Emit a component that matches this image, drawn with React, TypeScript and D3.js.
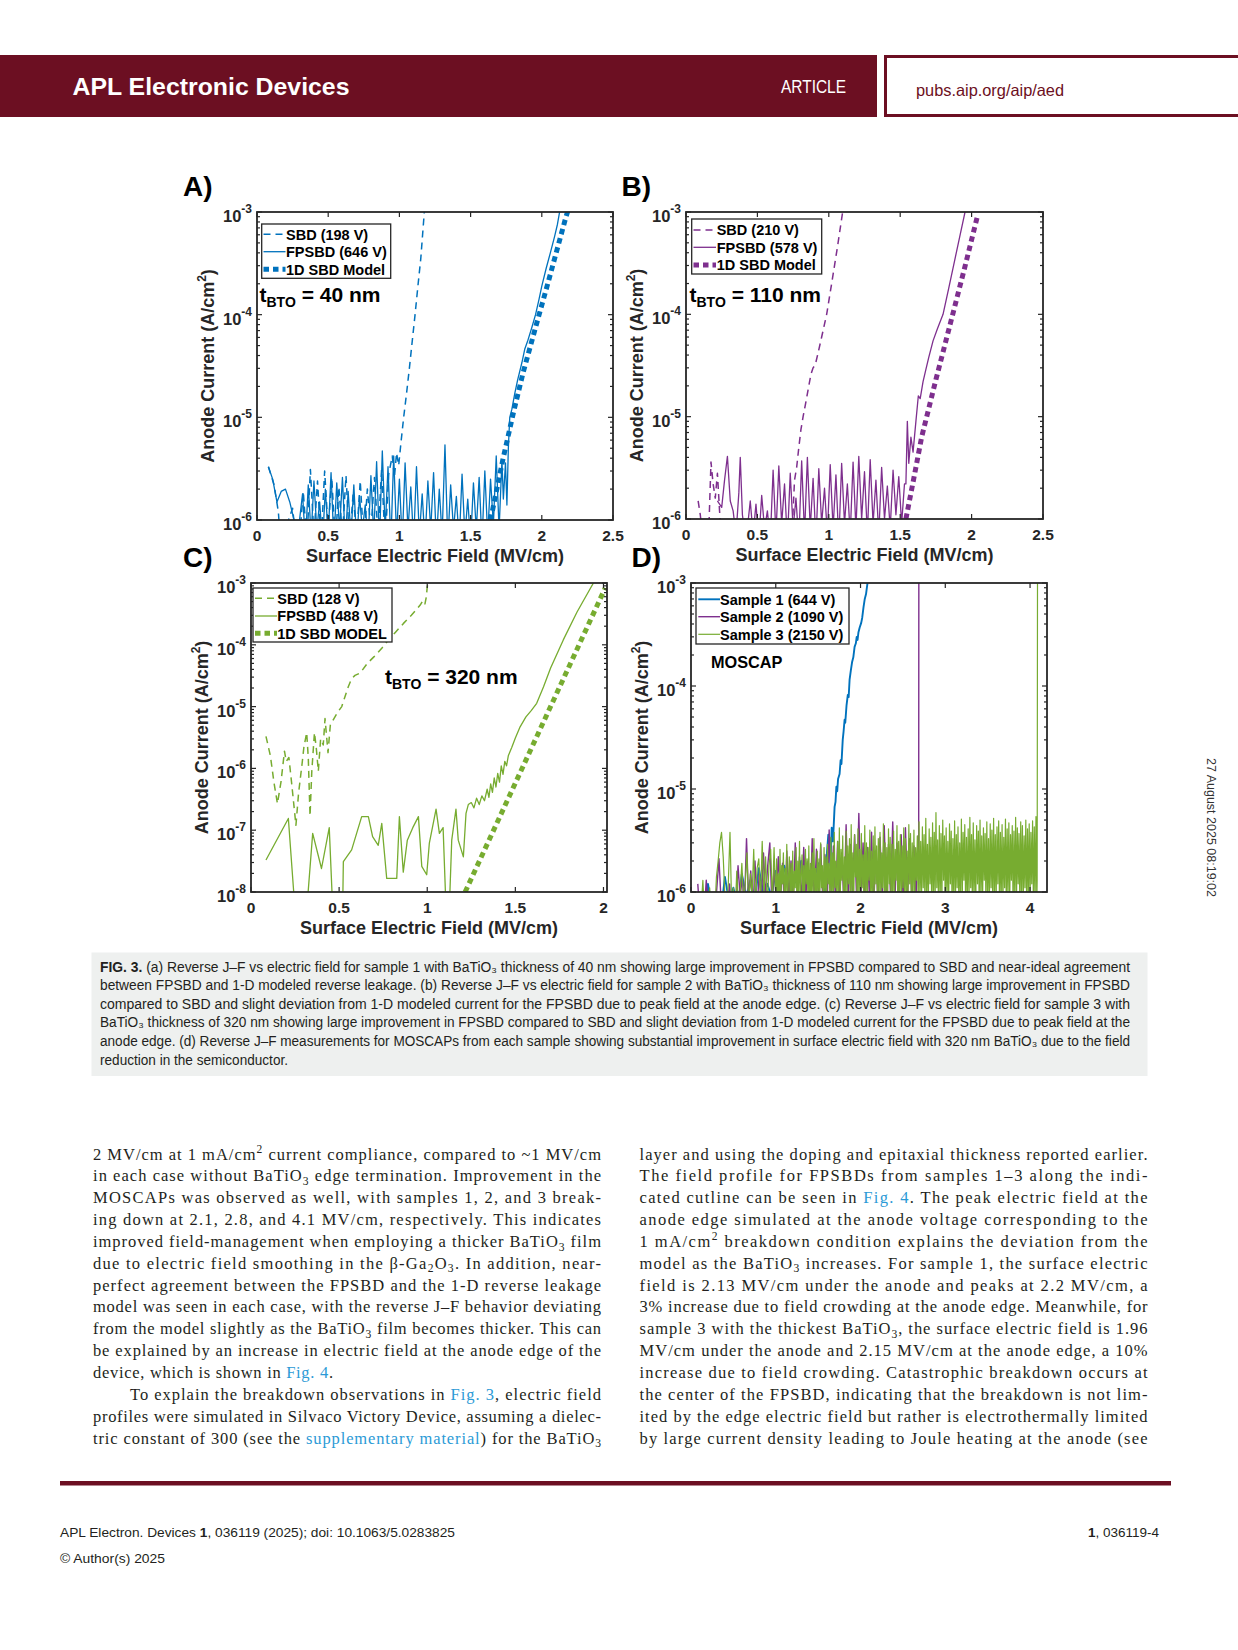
import React from 'react';
import * as d3 from 'd3';

type Pt = [number, number];

// ---------------- DATA ----------------
const AB_X_TICKS = [0, 0.5, 1, 1.5, 2, 2.5];
const C_X_TICKS = [0, 0.5, 1, 1.5, 2];
const D_X_TICKS = [0, 1, 2, 3, 4];
const AB_Y_EXPS = [-6, -5, -4, -3];
const C_Y_EXPS = [-8, -7, -6, -5, -4, -3];
const D_Y_EXPS = [-6, -5, -4, -3];

const A_LEGEND = ['SBD (198 V)', 'FPSBD (646 V)', '1D SBD Model'];
const B_LEGEND = ['SBD (210 V)', 'FPSBD (578 V)', '1D SBD Model'];
const C_LEGEND = ['SBD (128 V)', 'FPSBD (488 V)', '1D SBD MODEL'];
const D_LEGEND = ['Sample 1 (644 V)', 'Sample 2 (1090 V)', 'Sample 3 (2150 V)'];

// Panel A (values in A/cm^2; *_NOISE arrays in units of 1e-7 A/cm^2 on a regular field grid)
const A_SBD_HEAD: Pt[] = [[0.08, 3.3e-6], [0.12, 2.2e-6], [0.15, 1.2e-6], [0.165, 6e-7]];
const A_SBD_NOISE_X0 = 0.25, A_SBD_NOISE_DX = 0.025;
const A_SBD_NOISE = [13, 6, 7, 19, 6, 31, 7, 24, 6, 30, 8, 26, 6, 21, 7, 27, 6, 18, 7, 24, 6, 20, 8, 26, 7, 31, 6, 28];
const A_SBD_RISE: Pt[] = [[0.95, 4.2e-6], [0.965, 2.6e-6], [0.98, 4.5e-6], [0.995, 3.4e-6], [1.01, 5.5e-6], [1.03, 1e-5], [1.05, 1.7e-5], [1.07, 3e-5], [1.09, 5.5e-5], [1.11, 1e-4], [1.13, 1.9e-4], [1.15, 3.5e-4], [1.175, 1e-3], [1.18, 1.3e-3]];
const A_FP_HEAD: Pt[] = [[0.08, 3.3e-6], [0.11, 2.5e-6], [0.14, 1.5e-6], [0.17, 1.9e-6], [0.2, 2.0e-6], [0.23, 1.5e-6], [0.26, 1.0e-6], [0.28, 6e-7]];
const A_FP_NOISE_X0 = 0.32, A_FP_NOISE_DX = 0.02;
const A_FP_NOISE = [18, 6, 22, 7, 24, 8, 15, 6, 20, 7, 29, 6, 23, 8, 26, 6, 19, 7, 22, 6, 17, 8, 14, 6, 27, 7, 37, 6, 47, 8, 33, 6, 42, 7, 25, 6, 36, 8, 21, 6, 33, 7, 18, 6, 24, 8, 29, 6, 20, 7, 54, 6, 22, 8, 17, 6, 28, 7, 16, 6, 23, 8, 26, 6, 30, 7, 25, 9, 42, 8, 38];
const A_FP_RISE: Pt[] = [[1.73, 1.6e-6], [1.745, 3.6e-6], [1.755, 1.4e-6], [1.765, 5e-6], [1.775, 1e-5], [1.79, 1.2e-5], [1.81, 1.7e-5], [1.83, 2.3e-5], [1.86, 3.4e-5], [1.88, 4.6e-5], [1.9, 5.5e-5], [1.93, 7.5e-5], [1.956, 1.0e-4], [1.98, 1.4e-4], [2.0, 1.9e-4], [2.03, 2.8e-4], [2.06, 4.0e-4], [2.09, 5.8e-4], [2.11, 7.6e-4], [2.125, 1.0e-3], [2.13, 1.3e-3]];
const A_MODEL: Pt[] = [[1.64, 1.0e-6], [1.727, 3.9e-6], [1.8, 1.1e-5], [1.868, 2.7e-5], [1.95, 7e-5], [2.05, 2.2e-4], [2.17, 9e-4], [2.19, 1.1e-3]];

// Panel B
const B_SBD: Pt[] = [[0.085, 1.5e-6], [0.1, 1.1e-6], [0.12, 6e-7], [0.16, 8e-7], [0.175, 3.6e-6], [0.19, 2.2e-6], [0.205, 1.6e-6], [0.22, 2.8e-6], [0.235, 1.2e-6], [0.25, 6e-7], [0.74, 6e-7], [0.76, 2.4e-6], [0.775, 3.2e-6], [0.79, 5e-6], [0.805, 7.5e-6], [0.82, 1e-5], [0.84, 1.4e-5], [0.86, 2e-5], [0.875, 2.6e-5], [0.89, 3e-5], [0.905, 3.2e-5], [0.925, 4.2e-5], [0.95, 6e-5], [0.985, 1e-4], [1.02, 2e-4], [1.06, 4.5e-4], [1.097, 1e-3], [1.105, 1.2e-3]];
const B_FP_HEAD: Pt[] = [[0.22, 1.5e-6], [0.25, 1.3e-6], [0.27, 2.4e-6], [0.29, 4.1e-6], [0.31, 1.5e-6], [0.33, 1.2e-6], [0.35, 7e-7], [0.37, 1.8e-6], [0.38, 4.0e-6], [0.395, 1.1e-6], [0.42, 6e-7]];
const B_FP_NOISE_X0 = 0.45, B_FP_NOISE_DX = 0.02;
const B_FP_NOISE = [15, 7, 14, 6, 17, 8, 12, 6, 30, 7, 33, 9, 22, 6, 28, 8, 16, 6, 37, 7, 40, 8, 25, 6, 31, 9, 20, 7, 34, 8, 27, 6, 35, 9, 22, 7, 36, 8, 41, 10, 29, 7, 38, 9, 24, 7, 32, 10, 21, 8, 30, 11, 26, 9, 22];
const B_FP_RISE: Pt[] = [[1.54, 2.2e-6], [1.55, 9e-6], [1.56, 3.5e-6], [1.575, 6.3e-6], [1.59, 4.5e-6], [1.61, 9e-6], [1.627, 1.6e-5], [1.64, 1.5e-5], [1.66, 2.2e-5], [1.68, 2.9e-5], [1.7, 3.8e-5], [1.73, 5.5e-5], [1.76, 7.2e-5], [1.8, 1e-4], [1.84, 1.8e-4], [1.88, 3.3e-4], [1.92, 6e-4], [1.954, 1e-3], [1.96, 1.2e-3]];
const B_MODEL: Pt[] = [[1.54, 1e-6], [1.6, 2.7e-6], [1.65, 6.3e-6], [1.75, 2.3e-5], [1.85, 8e-5], [1.95, 2.8e-4], [2.04, 9e-4]];

// Panel C
const C_SBD: Pt[] = [[0.085, 3.3e-6], [0.11, 1.6e-6], [0.13, 6e-7], [0.15, 2.7e-7], [0.17, 6e-7], [0.19, 1.9e-6], [0.2, 1.3e-6], [0.215, 1.5e-6], [0.23, 6e-7], [0.255, 1.2e-7], [0.27, 4e-7], [0.29, 1.2e-6], [0.3, 2.2e-6], [0.316, 3.8e-6], [0.325, 1.5e-6], [0.335, 1.7e-7], [0.345, 9e-7], [0.36, 3.8e-6], [0.37, 2.2e-6], [0.382, 9e-7], [0.395, 3e-6], [0.41, 2.4e-6], [0.42, 6.4e-6], [0.437, 1.8e-6], [0.45, 5e-6], [0.465, 6e-6], [0.49, 8e-6], [0.515, 1e-5], [0.535, 1.5e-5], [0.552, 2.1e-5], [0.57, 2.8e-5], [0.59, 3.2e-5], [0.62, 3.5e-5], [0.66, 5e-5], [0.7, 6.5e-5], [0.742, 8.8e-5], [0.78, 1.2e-4], [0.82, 1.6e-4], [0.864, 2.2e-4], [0.91, 3e-4], [0.96, 4.4e-4], [0.975, 5.2e-4], [0.987, 4.6e-4], [0.995, 6e-4], [1.0, 8.7e-4], [1.01, 1.2e-3]];
const C_FP: Pt[] = [[0.085, 3.3e-8], [0.212, 1.55e-7], [0.25, 5e-9], [0.316, 5e-9], [0.35, 8.9e-8], [0.4, 2.4e-8], [0.444, 1.1e-7], [0.464, 5e-9], [0.52, 5e-9], [0.524, 3.1e-8], [0.571, 4.8e-8], [0.628, 1.66e-7], [0.666, 1.66e-7], [0.69, 7.9e-8], [0.722, 5.7e-8], [0.742, 1.29e-7], [0.77, 1.66e-8], [0.827, 1.66e-8], [0.842, 1.66e-7], [0.864, 2.1e-8], [0.887, 6.9e-8], [0.918, 1.1e-7], [0.95, 1.66e-7], [0.969, 2.6e-8], [0.997, 1.9e-8], [1.012, 6.2e-8], [1.05, 2.2e-7], [1.069, 8.9e-8], [1.09, 1.1e-7], [1.107, 5e-9], [1.125, 5e-9], [1.139, 6.9e-8], [1.163, 2.2e-7], [1.176, 6.9e-8], [1.205, 3.7e-8], [1.22, 1.87e-7], [1.233, 2.6e-7], [1.25, 2.8e-7], [1.265, 2.3e-7], [1.28, 3.3e-7], [1.295, 2.6e-7], [1.31, 3.6e-7], [1.325, 3e-7], [1.34, 4.6e-7], [1.35, 3.4e-7], [1.36, 5.6e-7], [1.37, 4.1e-7], [1.38, 7e-7], [1.39, 5e-7], [1.4, 8.3e-7], [1.41, 6e-7], [1.42, 1.1e-6], [1.43, 8e-7], [1.44, 1.3e-6], [1.45, 1.1e-6], [1.46, 1.6e-6], [1.48, 2.2e-6], [1.5, 3.1e-6], [1.527, 4.7e-6], [1.56, 6.8e-6], [1.59, 8.6e-6], [1.621, 1.13e-5], [1.66, 2.1e-5], [1.7, 4.2e-5], [1.772, 1.2e-4], [1.85, 3.4e-4], [1.943, 1e-3], [1.95, 1.2e-3]];
const C_MODEL: Pt[] = [[1.215, 1e-8], [2.01, 8.3e-4]];

// Panel D (MOSCAP)
const D_S1_NOISE_X0 = 0.1, D_S1_NOISE_DX = 0.05;
const D_S1_NOISE = [10, 6, 12, 7, 9, 6, 14, 8, 11, 7, 15, 9, 13, 8, 17, 10, 12, 9, 16, 11, 18, 10, 14, 12, 20, 11, 16, 13, 19, 12];
const D_S1_RISE: Pt[] = [[1.58, 9e-7], [1.6, 2.2e-6], [1.62, 3.6e-6], [1.635, 3.3e-6], [1.645, 1.8e-6], [1.66, 4.2e-6], [1.675, 3.1e-6], [1.694, 6.7e-6], [1.705, 7.5e-6], [1.715, 1.05e-5], [1.725, 9.5e-6], [1.735, 1.25e-5], [1.753, 1.4e-5], [1.765, 1.9e-5], [1.775, 1.75e-5], [1.79, 3e-5], [1.8, 3.6e-5], [1.812, 4.7e-5], [1.82, 4.4e-5], [1.835, 6.5e-5], [1.85, 8.2e-5], [1.86, 7.8e-5], [1.871, 1.15e-4], [1.885, 1.4e-4], [1.9, 1.7e-4], [1.915, 1.9e-4], [1.93, 2.4e-4], [1.945, 2.6e-4], [1.955, 3.0e-4], [1.965, 2.8e-4], [1.975, 3.3e-4], [1.99, 3.7e-4], [2.008, 4.1e-4], [2.02, 4.6e-4], [2.035, 5.8e-4], [2.05, 7e-4], [2.065, 7.8e-4], [2.075, 9e-4], [2.086, 1.05e-3], [2.09, 1.3e-3]];
const D_S2_NOISE_X0 = 0.08, D_S2_NOISE_DX = 0.025;
const D_S2_NOISE = [
  12, 6, 8, 6, 13, 7, 6, 9, 6, 11, 21, 8, 6, 9, 7,
  12, 6, 10, 7, 18, 9, 14, 7, 33, 8, 16, 6, 20, 7, 15,
  8, 24, 9, 18, 30, 7, 17, 9, 22, 8, 19, 6, 25, 9, 20,
  7, 30, 9, 22, 8, 27, 9, 20, 7, 33, 8, 26, 9, 29, 8,
  23, 7, 40, 9, 28, 8, 31, 9, 24, 7, 45, 8, 29, 9, 36,
  8, 58, 9, 30, 8, 27, 9, 38, 7, 25, 8, 34, 9, 44, 8,
  29, 9, 48, 8, 30, 9, 36, 7, 42, 9, 33, 8, 28, 9, 35];
const D_S2_BREAK: Pt[] = [[2.686, 1.6e-6], [2.688, 1.2e-3]];
// Sample 3: sparse part (0.10-0.98) and dense part (1.00-4.08)
const D_S3_LEFT_X0 = 0.1, D_S3_LEFT_DX = 0.02;
const D_S3_LEFT = [
  6, 7, 13, 6, 8, 7, 11, 6, 9, 6, 14, 20, 30, 38, 22, 9, 7, 12, 38, 7, 11, 6, 16, 7, 10,
  19, 8, 12, 24, 7, 15, 9, 26, 6, 17, 21, 8, 31, 9, 22, 7, 18, 26, 8, 27];
const D_S3_RIGHT_X0 = 1.0, D_S3_RIGHT_DX = 0.01;
const D_S3_RIGHT = [
  8, 21, 9, 15, 7, 26, 8, 18, 12, 24, 7, 17, 9, 29, 8, 14, 22, 7, 19, 9,
  25, 8, 16, 11, 27, 7, 20, 9, 31, 8, 15, 23, 7, 18, 9, 26, 12, 21, 8, 28,
  7, 19, 9, 24, 8, 33, 10, 17, 7, 25, 9, 21, 8, 30, 11, 18, 7, 27, 9, 22,
  8, 29, 12, 19, 7, 34, 9, 24, 8, 38, 11, 20, 7, 31, 9, 42, 8, 26, 13, 35,
  7, 22, 9, 39, 8, 28, 12, 33, 7, 45, 9, 24, 8, 36, 14, 29, 7, 41, 9, 26,
  8, 37, 11, 23, 7, 44, 9, 30, 8, 27, 13, 40, 7, 25, 9, 35, 8, 43, 12, 28,
  7, 33, 9, 38, 8, 24, 11, 46, 7, 30, 9, 27, 8, 41, 12, 34, 7, 29, 9, 39,
  8, 26, 13, 44, 7, 31, 9, 36, 8, 28, 11, 42, 7, 33, 9, 25, 8, 45, 12, 37,
  7, 30, 9, 40, 8, 27, 13, 35, 7, 48, 9, 31, 8, 43, 11, 36, 7, 52, 9, 29,
  8, 41, 12, 34, 7, 47, 9, 38, 8, 59, 11, 32, 7, 44, 9, 37, 8, 50, 13, 35,
  7, 42, 9, 31, 8, 46, 12, 39, 7, 33, 9, 49, 8, 36, 11, 43, 7, 30, 9, 51,
  8, 38, 13, 45, 7, 34, 9, 41, 8, 53, 11, 36, 7, 47, 9, 32, 8, 44, 12, 39,
  7, 50, 9, 35, 8, 42, 13, 37, 7, 48, 9, 33, 8, 46, 11, 40, 7, 52, 9, 36,
  8, 43, 12, 49, 7, 38, 9, 45, 8, 34, 11, 51, 7, 41, 9, 47, 8, 36, 13, 44,
  7, 39, 9, 53, 8, 42, 12, 37, 7, 48, 9, 44, 8, 35, 11, 50, 7, 41, 9, 46,
  8, 38, 12, 49, 7, 43, 9, 54, 8];
const D_S3_BREAK: Pt[] = [[4.084, 1.3e-6], [4.088, 1.2e-3]];

// ---------------- helpers ----------------
const grid = (x0: number, dx: number, vals: number[]): Pt[] => vals.map((v, i) => [x0 + i * dx, v * 1e-7]);

const BLUE = '#0072BD';
const PURPLE = '#7E2F8E';
const GREEN = '#77AC30';
const AX = '#262626';
const FIG_FONT = '"Liberation Sans", Arial, Helvetica, sans-serif';
const SERIF = '"Liberation Serif", "Times New Roman", serif';
const NARROW = '"Liberation Sans Narrow", "Liberation Sans", Arial, sans-serif';
const BRAND = '#6c0f22';
const LINK = '#2b9ad6';

type Kind = 'solid' | 'dashed' | 'dotted';
interface Series { pts: Pt[]; color: string; kind: Kind; width?: number }

function lineStyle(s: Series) {
  if (s.kind === 'dashed') return { w: 1.5, dash: '7 5' };
  if (s.kind === 'dotted') return { w: 5, dash: '5.5 4' };
  return { w: s.width ?? 1.3, dash: undefined as string | undefined };
}

interface Box { l: number; t: number; r: number; b: number }
interface LegendBox { x: number; y: number; w: number; h: number; lx1: number; lx2: number; tx: number; rows: number[] }

interface PanelProps {
  id: string;
  box: Box;
  xDomain: [number, number];
  xTicks: number[];
  yExps: number[];
  series: Series[];
  legendText: string[];
  legendSeries: Series[];
  legend: LegendBox;
  letter: string;
  letterPos: [number, number];
  children?: React.ReactNode;
}

function Panel(p: PanelProps) {
  const { l, t, r, b } = p.box;
  const x = d3.scaleLinear().domain(p.xDomain).range([l, r]);
  const lo = Math.pow(10, p.yExps[0]);
  const hi = Math.pow(10, p.yExps[p.yExps.length - 1]);
  const y = d3.scaleLog().domain([lo, hi]).range([b, t]);
  const gen = d3.line<Pt>().x(d => x(d[0])).y(d => y(d[1]));
  const minors: number[] = [];
  for (let i = 0; i < p.yExps.length - 1; i++) for (let k = 2; k < 10; k++) minors.push(k * Math.pow(10, p.yExps[i]));
  const clip = 'clip' + p.id;
  const cy = (t + b) / 2;
  return (
    <g fontFamily={FIG_FONT}>
      <defs>
        <clipPath id={clip}><rect x={l} y={t} width={r - l} height={b - t} /></clipPath>
      </defs>
      <g clipPath={`url(#${clip})`}>
        {p.series.map((s, i) => {
          const st = lineStyle(s);
          return <path key={i} d={gen(s.pts) || ''} fill="none" stroke={s.color} strokeWidth={st.w} strokeDasharray={st.dash} strokeLinejoin="round" />;
        })}
      </g>
      <g stroke={AX} strokeWidth={1.2}>
        {p.xTicks.map((v, i) => (
          <g key={'xt' + i}>
            <line x1={x(v)} x2={x(v)} y1={b} y2={b - 5} />
            <line x1={x(v)} x2={x(v)} y1={t} y2={t + 5} />
          </g>
        ))}
        {p.yExps.map((e, i) => {
          const yy = y(Math.pow(10, e));
          return (
            <g key={'yt' + i}>
              <line x1={l} x2={l + 5} y1={yy} y2={yy} />
              <line x1={r} x2={r - 5} y1={yy} y2={yy} />
            </g>
          );
        })}
        {minors.map((v, i) => (
          <g key={'ym' + i}>
            <line x1={l} x2={l + 3} y1={y(v)} y2={y(v)} />
            <line x1={r} x2={r - 3} y1={y(v)} y2={y(v)} />
          </g>
        ))}
      </g>
      <rect x={l} y={t} width={r - l} height={b - t} fill="none" stroke={AX} strokeWidth={1.8} />
      <g fill={AX} fontWeight="bold">
        {p.xTicks.map((v, i) => (
          <text key={'xl' + i} x={x(v)} y={b + 20.5} textAnchor="middle" fontSize={15.5}>{String(v)}</text>
        ))}
        {p.yExps.map((e, i) => {
          const yy = y(Math.pow(10, e));
          return (
            <text key={'yl' + i} x={l - 5} y={yy + 10} textAnchor="end" fontSize={16.5}>
              10<tspan dy={-9} fontSize={12}>{String(e)}</tspan>
            </text>
          );
        })}
      </g>
      <text x={(l + r) / 2} y={b + 41.5} textAnchor="middle" fontWeight="bold" fontSize={18} fill={AX}>
        Surface Electric Field (MV/cm)
      </text>
      <text transform={`translate(${l - 43.5},${cy}) rotate(-90)`} textAnchor="middle" fontWeight="bold" fontSize={18} fill={AX}>
        Anode Current (A/cm<tspan dy={-8} fontSize={12}>2</tspan><tspan dy={8}>)</tspan>
      </text>
      <rect x={p.legend.x} y={p.legend.y} width={p.legend.w} height={p.legend.h} fill="#fff" stroke={AX} strokeWidth={1.3} />
      {p.legendText.map((txt, i) => {
        const s = p.legendSeries[i];
        const st = lineStyle(s);
        const ry = p.legend.rows[i];
        return (
          <g key={'lg' + i}>
            <line x1={p.legend.lx1} x2={p.legend.lx2} y1={ry} y2={ry} stroke={s.color} strokeWidth={st.w} strokeDasharray={st.dash} />
            <text x={p.legend.tx} y={ry + 5.2} fontSize={14.5} fontWeight="bold" fill="#000">{txt}</text>
          </g>
        );
      })}
      {p.children}
      <text x={p.letterPos[0]} y={p.letterPos[1]} fontSize={28} fontWeight="bold" fill="#000">{p.letter}</text>
    </g>
  );
}

function TBTO({ x, y, val }: { x: number; y: number; val: string }) {
  return (
    <text x={x} y={y} fontFamily={FIG_FONT} fontWeight="bold" fontSize={21} fill="#000">
      t<tspan fontSize={14} dy={5}>BTO</tspan><tspan dy={-5}>{` = ${val} nm`}</tspan>
    </text>
  );
}

function rich(s: string, size: number, subShift = 0.22) {
  const parts = s.split(/(_\{[^}]*\}|\^\{[^}]*\}|\[[^\]]*\]|\*[^*]*\*)/).filter(q => q !== '');
  let cur = 0;
  return parts.map((q, i) => {
    let target = 0;
    let fs = size;
    let txt = q;
    let fill: string | undefined;
    let fw: string | undefined;
    if (q.startsWith('_{')) { target = size * subShift; fs = size * 0.7; txt = q.slice(2, -1); }
    else if (q.startsWith('^{')) { target = -size * 0.42; fs = size * 0.7; txt = q.slice(2, -1); }
    else if (q.startsWith('[')) { fill = LINK; txt = q.slice(1, -1); }
    else if (q.startsWith('*')) { fw = 'bold'; txt = q.slice(1, -1); }
    const dy = target - cur;
    cur = target;
    return <tspan key={i} dy={dy !== 0 ? dy : undefined} fontSize={fs} fill={fill} fontWeight={fw}>{txt}</tspan>;
  });
}

const LEFT_COL: [string, number?, number?][] = [
  ['2 MV/cm at 1 mA/cm^{2} current compliance, compared to ~1 MV/cm'],
  ['in each case without BaTiO_{3} edge termination. Improvement in the'],
  ['MOSCAPs was observed as well, with samples 1, 2, and 3 break-'],
  ['ing down at 2.1, 2.8, and 4.1 MV/cm, respectively. This indicates'],
  ['improved field-management when employing a thicker BaTiO_{3} film'],
  ['due to electric field smoothing in the β-Ga_{2}O_{3}. In addition, near-'],
  ['perfect agreement between the FPSBD and the 1-D reverse leakage'],
  ['model was seen in each case, with the reverse J–F behavior deviating'],
  ['from the model slightly as the BaTiO_{3} film becomes thicker. This can'],
  ['be explained by an increase in electric field at the anode edge of the'],
  ['device, which is shown in [Fig. 4].', 240],
  ['To explain the breakdown observations in [Fig. 3], electric field', undefined, 37],
  ['profiles were simulated in Silvaco Victory Device, assuming a dielec-'],
  ['tric constant of 300 (see the [supplementary material]) for the BaTiO_{3}'],
];
const RIGHT_COL: [string, number?, number?][] = [
  ['layer and using the doping and epitaxial thickness reported earlier.'],
  ['The field profile for FPSBDs from samples 1–3 along the indi-'],
  ['cated cutline can be seen in [Fig. 4]. The peak electric field at the'],
  ['anode edge simulated at the anode voltage corresponding to the'],
  ['1 mA/cm^{2} breakdown condition explains the deviation from the'],
  ['model as the BaTiO_{3} increases. For sample 1, the surface electric'],
  ['field is 2.13 MV/cm under the anode and peaks at 2.2 MV/cm, a'],
  ['3% increase due to field crowding at the anode edge. Meanwhile, for'],
  ['sample 3 with the thickest BaTiO_{3}, the surface electric field is 1.96'],
  ['MV/cm under the anode and 2.15 MV/cm at the anode edge, a 10%'],
  ['increase due to field crowding. Catastrophic breakdown occurs at'],
  ['the center of the FPSBD, indicating that the breakdown is not lim-'],
  ['ited by the edge electric field but rather is electrothermally limited'],
  ['by large current density leading to Joule heating at the anode (see'],
];
const CAPTION: [string, number?][] = [
  ['*FIG. 3.* (a) Reverse J–F vs electric field for sample 1 with BaTiO₃ thickness of 40 nm showing large improvement in FPSBD compared to SBD and near-ideal agreement'],
  ['between FPSBD and 1-D modeled reverse leakage. (b) Reverse J–F vs electric field for sample 2 with BaTiO₃ thickness of 110 nm showing large improvement in FPSBD'],
  ['compared to SBD and slight deviation from 1-D modeled current for the FPSBD due to peak field at the anode edge. (c) Reverse J–F vs electric field for sample 3 with'],
  ['BaTiO₃ thickness of 320 nm showing large improvement in FPSBD compared to SBD and slight deviation from 1-D modeled current for the FPSBD due to peak field at the'],
  ['anode edge. (d) Reverse J–F measurements for MOSCAPs from each sample showing substantial improvement in surface electric field with 320 nm BaTiO₃ due to the field'],
  ['reduction in the semiconductor.', 188],
];

export default function App() {
  const aSeries: Series[] = [
    { pts: [...A_SBD_HEAD, ...grid(A_SBD_NOISE_X0, A_SBD_NOISE_DX, A_SBD_NOISE), ...A_SBD_RISE], color: BLUE, kind: 'dashed' },
    { pts: [...A_FP_HEAD, ...grid(A_FP_NOISE_X0, A_FP_NOISE_DX, A_FP_NOISE), ...A_FP_RISE], color: BLUE, kind: 'solid' },
    { pts: A_MODEL, color: BLUE, kind: 'dotted' },
  ];
  const bSeries: Series[] = [
    { pts: B_SBD, color: PURPLE, kind: 'dashed' },
    { pts: [...B_FP_HEAD, ...grid(B_FP_NOISE_X0, B_FP_NOISE_DX, B_FP_NOISE), ...B_FP_RISE], color: PURPLE, kind: 'solid' },
    { pts: B_MODEL, color: PURPLE, kind: 'dotted' },
  ];
  const cSeries: Series[] = [
    { pts: C_SBD, color: GREEN, kind: 'dashed' },
    { pts: C_FP, color: GREEN, kind: 'solid' },
    { pts: C_MODEL, color: GREEN, kind: 'dotted' },
  ];
  const dSeries: Series[] = [
    { pts: [...grid(D_S1_NOISE_X0, D_S1_NOISE_DX, D_S1_NOISE), ...D_S1_RISE], color: BLUE, kind: 'solid', width: 1.9 },
    { pts: [...grid(D_S2_NOISE_X0, D_S2_NOISE_DX, D_S2_NOISE), ...D_S2_BREAK], color: PURPLE, kind: 'solid', width: 1.4 },
    { pts: [...grid(D_S3_LEFT_X0, D_S3_LEFT_DX, D_S3_LEFT), ...grid(D_S3_RIGHT_X0, D_S3_RIGHT_DX, D_S3_RIGHT), ...D_S3_BREAK], color: GREEN, kind: 'solid', width: 1.2 },
  ];

  const bodyBase = 1159.5;
  const bodyStep = 21.85;
  const colW = 508;

  return (
    <div style={{ position: 'absolute', left: 0, top: 0 }}>
      <svg width={1238} height={1650} style={{ display: 'block', background: '#fff' }}>
        <rect x={0} y={55} width={877} height={62} fill={BRAND} />
        <rect x={885.5} y={56.5} width={360} height={59} fill="#fff" stroke={BRAND} strokeWidth={3} />
        <text x={72.5} y={94.5} fontFamily={FIG_FONT} fontWeight="bold" fontSize={23.5} fill="#fff" textLength={277} lengthAdjust="spacingAndGlyphs">APL Electronic Devices</text>
        <text x={781} y={93} fontFamily={FIG_FONT} fontSize={17.5} fill="#fff" textLength={65} lengthAdjust="spacingAndGlyphs">ARTICLE</text>
        <text x={916} y={96} fontFamily={FIG_FONT} fontSize={16.5} fill={BRAND} textLength={148} lengthAdjust="spacingAndGlyphs">pubs.aip.org/aip/aed</text>

        <Panel id="A" box={{ l: 257, t: 212, r: 613, b: 520 }} xDomain={[0, 2.5]} xTicks={AB_X_TICKS} yExps={AB_Y_EXPS}
          series={aSeries} legendText={A_LEGEND} legendSeries={aSeries}
          legend={{ x: 261.7, y: 224, w: 129, h: 54.3, lx1: 263.5, lx2: 285.5, tx: 286, rows: [234.3, 251.7, 269.3] }}
          letter="A)" letterPos={[183, 196]}>
          <TBTO x={259.5} y={301.5} val="40" />
        </Panel>
        <Panel id="B" box={{ l: 686, t: 212, r: 1043, b: 519 }} xDomain={[0, 2.5]} xTicks={AB_X_TICKS} yExps={AB_Y_EXPS}
          series={bSeries} legendText={B_LEGEND} legendSeries={bSeries}
          legend={{ x: 691.7, y: 219, w: 130, h: 55, lx1: 693.5, lx2: 716, tx: 716.7, rows: [230, 247.3, 265] }}
          letter="B)" letterPos={[621.5, 196]}>
          <TBTO x={689.5} y={301.5} val="110" />
        </Panel>
        <Panel id="C" box={{ l: 251, t: 583, r: 607, b: 892 }} xDomain={[0, 2.02]} xTicks={C_X_TICKS} yExps={C_Y_EXPS}
          series={cSeries} legendText={C_LEGEND} legendSeries={cSeries}
          legend={{ x: 253, y: 588, w: 139, h: 54, lx1: 255, lx2: 277, tx: 277.3, rows: [598.3, 616, 633.3] }}
          letter="C)" letterPos={[183, 567]}>
          <TBTO x={385} y={684} val="320" />
        </Panel>
        <Panel id="D" box={{ l: 691, t: 583, r: 1047, b: 892 }} xDomain={[0, 4.2]} xTicks={D_X_TICKS} yExps={D_Y_EXPS}
          series={dSeries} legendText={D_LEGEND} legendSeries={dSeries}
          legend={{ x: 696, y: 588, w: 153, h: 56, lx1: 698.3, lx2: 720, tx: 720, rows: [599.3, 616.7, 634.3] }}
          letter="D)" letterPos={[631.5, 567]}>
          <text x={711} y={667.5} fontFamily={FIG_FONT} fontWeight="bold" fontSize={16.3} fill="#000">MOSCAP</text>
        </Panel>

        <rect x={91.5} y={952.5} width={1056} height={123.5} fill="#eef0ef" />
        <g fontFamily={NARROW} fontSize={14} fill="#231f20" style={{ whiteSpace: 'pre' }}>
          {CAPTION.map(([s, len], i) => (
            <text key={i} x={100} y={971.5 + i * 18.6} textLength={len ?? 1030} lengthAdjust="spacingAndGlyphs">{rich(s, 14)}</text>
          ))}
        </g>

        <g fontFamily={SERIF} fontSize={16.5} fill="#231f20" style={{ whiteSpace: 'pre' }}>
          {LEFT_COL.map(([s, len, ind], i) => (
            <text key={'l' + i} x={93 + (ind ?? 0)} y={bodyBase + i * bodyStep} textLength={len ?? colW - (ind ?? 0)} lengthAdjust="spacing">{rich(s, 16.5)}</text>
          ))}
          {RIGHT_COL.map(([s, len, ind], i) => (
            <text key={'r' + i} x={639.5 + (ind ?? 0)} y={bodyBase + i * bodyStep} textLength={len ?? colW - (ind ?? 0)} lengthAdjust="spacing">{rich(s, 16.5)}</text>
          ))}
        </g>

        <rect x={60} y={1481} width={1111} height={4.5} fill={BRAND} />
        <g fontFamily={NARROW} fontSize={13.5} fill="#231f20" style={{ whiteSpace: 'pre' }}>
          <text x={60} y={1537} textLength={395} lengthAdjust="spacingAndGlyphs">{rich('APL Electron. Devices *1*, 036119 (2025); doi: 10.1063/5.0283825', 13.5)}</text>
          <text x={1159} y={1537} textAnchor="end">{rich('*1*, 036119-4', 13.5)}</text>
          <text x={60} y={1563} textLength={105} lengthAdjust="spacingAndGlyphs">© Author(s) 2025</text>
        </g>

        <text transform="translate(1207,827.5) rotate(90)" textAnchor="middle" fontFamily={NARROW} fontSize={12.5} fill="#333" textLength={139} lengthAdjust="spacingAndGlyphs">27 August 2025 08:19:02</text>
      </svg>
    </div>
  );
}
